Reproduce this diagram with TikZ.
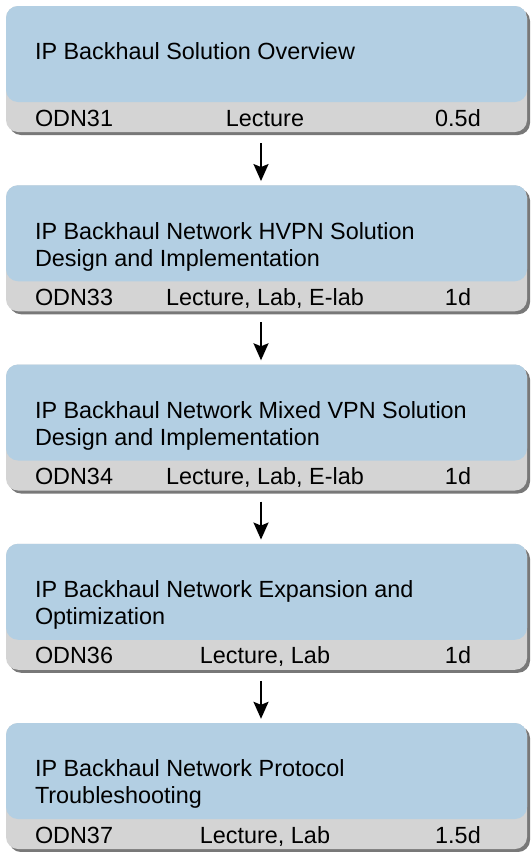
\documentclass[tikz,border=0pt]{standalone}
\usepackage{fontspec}
\setmainfont{Liberation Sans}
\usetikzlibrary{arrows.meta,shadows}

\definecolor{boxblue}{RGB}{179,207,227}
\definecolor{bargray}{RGB}{212,212,212}
\definecolor{shadowgray}{RGB}{120,120,120}
\def\gap{179.25}

\tikzset{
  coursebox/.style={rounded corners=12pt,fill=bargray,minimum width=521pt,
    minimum height=126pt,inner sep=0pt,
    drop shadow={shadow xshift=3pt,shadow yshift=-3pt,fill=shadowgray,opacity=1},
    path picture={\fill[boxblue] (path picture bounding box.north west)
      rectangle ([yshift=30pt]path picture bounding box.south east);}},
  coursetext/.style={inner sep=0pt,font=\fontsize{23.4}{27}\selectfont}
}

\begin{document}
\begin{tikzpicture}[x=1pt,y=-1pt,>={Stealth[length=17pt,width=15pt,inset=3pt]}]
\useasboundingbox (0,0) rectangle (531,852);

\foreach \i/\code/\kind/\days/\title in {
  1/ODN31/Lecture/0.5d/{IP Backhaul Solution Overview},
  2/ODN33/{Lecture, Lab, E-lab}/1d/{IP Backhaul Network HVPN Solution\\Design and Implementation},
  3/ODN34/{Lecture, Lab, E-lab}/1d/{IP Backhaul Network Mixed VPN Solution\\Design and Implementation},
  4/ODN36/{Lecture, Lab}/1d/{IP Backhaul Network Expansion and\\Optimization},
  5/ODN37/{Lecture, Lab}/1.5d/{IP Backhaul Network Protocol\\Troubleshooting}}{
	\node[coursebox] (box\i) at (266.5,{69+\gap*(\i-1)}) {};
	\node[coursetext,anchor=north west,align=left] (title\i)
		at ([xshift=29pt,yshift=-37pt]box\i.north west) {\title};
	\node[coursetext,anchor=base west] (code\i)
		at ([xshift=29pt,yshift=6pt]box\i.south west) {\code};
	\node[coursetext,anchor=base] (kind\i)
		at ([xshift=-1.5pt,yshift=6pt]box\i.south) {\kind};
	\node[coursetext,anchor=base] (days\i)
		at ([xshift=191.5pt,yshift=6pt]box\i.south) {\days};
}

\foreach \i [evaluate=\i as \next using int(\i+1)] in {1,...,4}{
	\draw[->,line width=2pt] ([xshift=-5.5pt,yshift=-11pt]box\i.south)
		-- ([xshift=-5.5pt,yshift=4pt]box\next.north);
}
\end{tikzpicture}
\end{document}
